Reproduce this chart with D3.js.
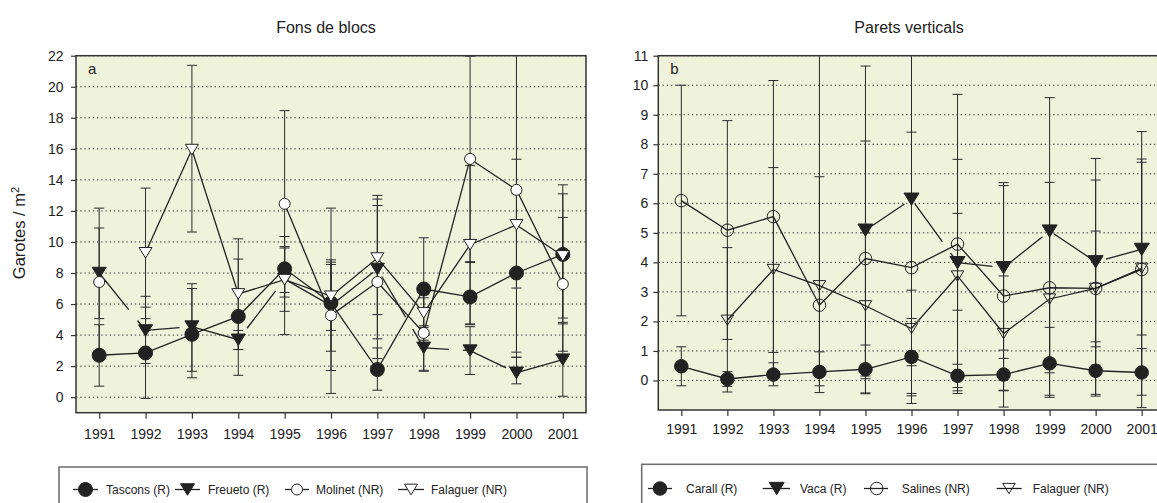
<!DOCTYPE html>
<html>
<head>
<meta charset="utf-8">
<script src="https://cdn.jsdelivr.net/npm/d3@7"></script>
<style>
  body { margin: 0; background: #fff; }
  svg { display: block; font-family: "Liberation Sans", Arial, Helvetica, sans-serif; }
</style>
</head>
<body>
<svg id="chart" width="1157" height="503"></svg>
<script>
// ---- data -------------------------------------------------------------
const years = [1991, 1992, 1993, 1994, 1995, 1996, 1997, 1998, 1999, 2000, 2001];
const yTicksA = [0, 2, 4, 6, 8, 10, 12, 14, 16, 18, 20, 22];
const yTicksB = [0, 1, 2, 3, 4, 5, 6, 7, 8, 9, 10, 11];

// Fons de blocs: mean density and the ends of each error bar
const tasconsMean = [2.70, 2.85, 4.05, 5.20, 8.27, 6.07, 1.78, 6.97, 6.46, 8.00, 9.20];
const tasconsHi   = [4.67, 5.80, 7.00, 8.90, 9.70, 12.18, 3.17, 10.27, 8.68, 13.10, 13.68];
const tasconsLo   = [0.71, -0.08, 1.25, 1.41, 6.75, 0.24, 0.45, 3.67, 4.67, 2.90, 4.72];

const freuetoMean = [8.00, 4.30, 4.55, 3.70, 7.60, 5.90, 8.26, 3.18, 3.00, 1.57, 2.42];
const freuetoHi   = [10.90, 6.50, 7.31, 4.30, 10.35, 8.85, 12.76, 4.60, 4.54, 2.57, 4.82];
const freuetoLo   = [5.06, 2.17, 1.67, 3.07, 4.03, 2.96, 3.76, 1.73, 1.46, 0.86, 0.06];

const molinetMean = [7.42, null, null, null, 12.46, 5.27, 7.42, 4.14, 15.35, 13.36, 7.29];
const molinetHi   = [12.18, null, null, null, 18.46, 8.55, 12.35, 6.60, 21.97, 24.50, 11.58];
const molinetLo   = [2.62, null, null, null, 6.45, 1.72, 2.49, 1.67, 8.73, 2.57, 2.96];

const falaguerAMean = [null, 9.30, 15.95, 6.65, 7.57, 6.50, 8.96, 5.43, 9.82, 11.10, 9.10];
const falaguerAHi   = [null, 13.47, 21.38, 10.20, 9.61, 8.70, 13.00, 6.40, 14.92, 15.33, 13.10];
const falaguerALo   = [null, 5.06, 10.64, 3.07, 5.53, 4.30, 5.32, 4.50, 4.72, 7.03, 5.10];

// Parets verticals
const carallMean = [0.48, 0.05, 0.20, 0.29, 0.38, 0.80, 0.16, 0.20, 0.58, 0.33, 0.27];
const carallHi   = [1.14, 0.30, 0.60, 0.97, 1.20, 2.10, 0.55, 0.75, 1.80, 1.31, 1.08];
const carallLo   = [-0.18, -0.20, -0.18, -0.18, -0.42, -0.52, -0.24, -0.35, -0.57, -0.47, -0.50];

const vacaMean = [null, null, null, null, 5.09, 6.14, 3.99, 3.82, 5.06, 4.02, 4.44];
const vacaHi   = [null, null, null, null, 10.65, 12.80, 7.49, 6.70, 9.58, 7.52, 7.39];
const vacaLo   = [null, null, null, null, -0.45, -0.44, -0.35, 1.03, 0.54, 0.52, 1.54];

const salinesMean = [6.09, 5.09, 5.55, 2.55, 4.13, 3.82, 4.62, 2.86, 3.14, 3.12, 3.76];
const salinesHi   = [10.00, 8.80, 10.16, 12.00, 8.11, 8.41, 9.69, 6.60, 6.71, 6.79, 8.43];
const salinesLo   = [2.19, 1.39, 0.95, 0.15, 0.15, -0.78, -0.44, -0.90, -0.50, -0.53, -0.92];

const falaguerBMean = [null, 2.04, 3.76, 3.21, 2.53, 1.76, 3.54, 1.59, 2.76, 3.12, 3.80];
const falaguerBHi   = [null, 4.50, 7.21, 6.90, 5.00, 3.06, 5.66, 3.54, 5.25, 5.06, 7.50];
const falaguerBLo   = [null, -0.39, 0.31, -0.41, 0.06, 0.50, 2.38, -0.33, 0.26, 1.14, 0.20];

// ---- panel set-up -----------------------------------------------------
const INK = "#222";
const PLOT_BG = "#f0f3dc";

const panels = [
  {
    title: "Fons de blocs", letter: "a", titleX: 326,
    x0: 76, x1: 586, y0: 55.7, y1: 412.7, yMin: -1, yMax: 22, ticks: yTicksA,
    yPad: 7.5, xPad: 10.3, markerFill: "#fff",
    series: [
      { label: "Tascons (R)",  mean: tasconsMean, hi: tasconsHi, lo: tasconsLo, shape: "circle", filled: true,  size: 14 },
      { label: "Freueto (R)",  mean: freuetoMean, hi: freuetoHi, lo: freuetoLo, shape: "tri",    filled: true,  size: 14, dashed: true },
      { label: "Molinet (NR)", mean: molinetMean, hi: molinetHi, lo: molinetLo, shape: "circle", filled: false, size: 11 },
      { label: "Falaguer (NR)", mean: falaguerAMean, hi: falaguerAHi, lo: falaguerALo, shape: "tri", filled: false, size: 13 }
    ],
    legend: { x: 59, y: 467, w: 528, rowY: 489.5, font: 12,
              items: [ [73, 98, 85.5, 106], [175, 200, 187.5, 208], [285, 309, 297, 316], [398, 424, 411, 431] ] }
  },
  {
    title: "Parets verticals", letter: "b", titleX: 909,
    x0: 658.3, x1: 1164.7, y0: 55.7, y1: 410, yMin: -1, yMax: 11, ticks: yTicksB,
    yPad: 5, xPad: 8.5, markerFill: "none",
    series: [
      { label: "Carall (R)",    mean: carallMean, hi: carallHi, lo: carallLo, shape: "circle", filled: true,  size: 13.5 },
      { label: "Vaca (R)",      mean: vacaMean, hi: vacaHi, lo: vacaLo, shape: "tri", filled: true, size: 15, dashed: true },
      { label: "Salines (NR)",  mean: salinesMean, hi: salinesHi, lo: salinesLo, shape: "circle", filled: false, size: 12.5 },
      { label: "Falaguer (NR)", mean: falaguerBMean, hi: falaguerBHi, lo: falaguerBLo, shape: "tri", filled: false, size: 12.5 }
    ],
    legend: { x: 641.7, y: 464.3, w: 540, rowY: 488.5, font: 12,
              items: [ [648, 672, 660, 686], [762.7, 790, 776.7, 800], [864, 888, 876.7, 901.7], [996.7, 1021.7, 1009, 1032.7] ] }
  }
];

// marker outline: circle of diameter w, or a downward triangle w wide
function markerPath(shape, w) {
  if (shape === "circle") return d3.symbol(d3.symbolCircle, Math.PI * (w / 2) * (w / 2))();
  const h = w * 0.82;
  return `M${-w / 2},${-h / 2}L${w / 2},${-h / 2}L0,${h / 2}Z`;
}

function drawMarker(sel, s, fillOpen) {
  sel.attr("d", markerPath(s.shape, s.size))
     .attr("fill", s.filled ? INK : fillOpen)
     .attr("stroke", INK)
     .attr("stroke-width", 1);
}

const svg = d3.select("#chart");
const defs = svg.append("defs");

panels.forEach((p, pi) => {
  const x = d3.scaleLinear()
    .domain([years[0] - 0.5, years[years.length - 1] + 0.5])
    .range([p.x0, p.x1]);
  const y = d3.scaleLinear().domain([p.yMin, p.yMax]).range([p.y1, p.y0]);

  const g = svg.append("g");

  // title
  g.append("text")
    .attr("x", p.titleX).attr("y", 33)
    .attr("text-anchor", "middle")
    .attr("font-size", 16).attr("fill", INK)
    .text(p.title);

  // plotting area
  g.append("rect")
    .attr("x", p.x0).attr("y", p.y0)
    .attr("width", p.x1 - p.x0).attr("height", p.y1 - p.y0)
    .attr("fill", PLOT_BG);

  const clipId = "plot-clip-" + pi;
  defs.append("clipPath").attr("id", clipId)
    .append("rect")
    .attr("x", p.x0).attr("y", p.y0)
    .attr("width", p.x1 - p.x0).attr("height", p.y1 - p.y0);

  // dotted grid at each y tick
  g.append("g").selectAll("line")
    .data(p.ticks).join("line")
    .attr("x1", p.x0).attr("x2", p.x1)
    .attr("y1", d => y(d)).attr("y2", d => y(d))
    .attr("stroke", "#333").attr("stroke-width", 1)
    .attr("stroke-dasharray", "1.4,2.8");

  // axes
  const yAxis = d3.axisLeft(y).tickValues(p.ticks).tickSize(5).tickSizeOuter(0).tickPadding(p.yPad);
  const ya = g.append("g").attr("transform", `translate(${p.x0},0)`).call(yAxis);
  const xAxis = d3.axisBottom(x).tickValues(years).tickFormat(d3.format("d")).tickSize(6).tickSizeOuter(0).tickPadding(p.xPad);
  const xa = g.append("g").attr("transform", `translate(0,${p.y1})`).call(xAxis);
  [ya, xa].forEach(a => {
    a.select(".domain").remove();
    a.selectAll(".tick line").attr("stroke", "#333").attr("stroke-width", 1.2);
    a.selectAll(".tick text").attr("fill", INK).attr("font-size", 14)
      .attr("font-family", '"Liberation Sans", Arial, sans-serif');
  });

  // panel letter
  g.append("text")
    .attr("x", p.x0 + 12).attr("y", p.y0 + 18)
    .attr("font-size", 15).attr("fill", INK)
    .text(p.letter);

  const plot = g.append("g").attr("clip-path", `url(#${clipId})`);

  // error bars
  const capW = 10;
  p.series.forEach(s => {
    const pts = years.map((yr, i) => ({ yr, m: s.mean[i], hi: s.hi[i], lo: s.lo[i] }))
      .filter(d => d.m != null);
    const eb = plot.append("g").attr("stroke", "#2a2a2a").attr("stroke-width", 1).attr("fill", "none");
    eb.selectAll("line.stem").data(pts).join("line").attr("class", "stem")
      .attr("x1", d => x(d.yr)).attr("x2", d => x(d.yr))
      .attr("y1", d => y(d.lo)).attr("y2", d => y(d.hi));
    eb.selectAll("line.cap-hi").data(pts).join("line").attr("class", "cap-hi")
      .attr("x1", d => x(d.yr) - capW / 2).attr("x2", d => x(d.yr) + capW / 2)
      .attr("y1", d => y(d.hi)).attr("y2", d => y(d.hi));
    eb.selectAll("line.cap-lo").data(pts).join("line").attr("class", "cap-lo")
      .attr("x1", d => x(d.yr) - capW / 2).attr("x2", d => x(d.yr) + capW / 2)
      .attr("y1", d => y(d.lo)).attr("y2", d => y(d.lo));
  });

  // connecting lines
  const line = d3.line()
    .defined(d => d.m != null)
    .x(d => x(d.yr)).y(d => y(d.m));
  p.series.forEach(s => {
    const pts = years.map((yr, i) => ({ yr, m: s.mean[i] }));
    plot.append("path")
      .attr("d", line(pts))
      .attr("fill", "none")
      .attr("stroke", INK).attr("stroke-width", 1.3)
      .attr("stroke-dasharray", s.dashed ? "47,14" : null);
  });

  // markers
  p.series.forEach(s => {
    const pts = years.map((yr, i) => ({ yr, m: s.mean[i] })).filter(d => d.m != null);
    plot.append("g").selectAll("path").data(pts).join("path")
      .attr("transform", d => `translate(${x(d.yr)},${y(d.m)})`)
      .call(sel => drawMarker(sel, s, p.markerFill));
  });

  // frame
  g.append("rect")
    .attr("x", p.x0).attr("y", p.y0)
    .attr("width", p.x1 - p.x0).attr("height", p.y1 - p.y0)
    .attr("fill", "none").attr("stroke", "#333").attr("stroke-width", 1.5);

  // legend
  const L = p.legend;
  const lg = g.append("g");
  lg.append("rect")
    .attr("x", L.x).attr("y", L.y).attr("width", L.w).attr("height", 60)
    .attr("fill", "none").attr("stroke", "#6a6a6a").attr("stroke-width", 1.5);
  p.series.forEach((s, i) => {
    const [lx1, lx2, mx, tx] = L.items[i];
    lg.append("line")
      .attr("x1", lx1).attr("x2", lx2).attr("y1", L.rowY).attr("y2", L.rowY)
      .attr("stroke", INK).attr("stroke-width", 1.3);
    lg.append("path")
      .attr("transform", `translate(${mx},${L.rowY})`)
      .call(sel => drawMarker(sel, s, p.markerFill));
    lg.append("text")
      .attr("x", tx).attr("y", L.rowY + 4.3)
      .attr("font-size", L.font).attr("fill", INK)
      .text(s.label);
  });
});

// y-axis title of the first panel
const yTitle = svg.append("text")
  .attr("transform", "translate(25,233) rotate(-90)")
  .attr("text-anchor", "middle")
  .attr("font-size", 16.5).attr("fill", INK);
yTitle.append("tspan").text("Garotes / m");
yTitle.append("tspan").attr("dy", -6).attr("font-size", 11).text("2");
</script>
</body>
</html>
